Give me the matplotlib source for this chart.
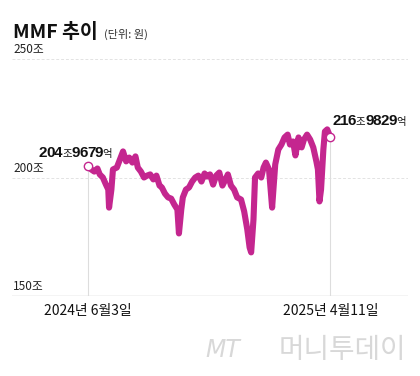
import matplotlib.pyplot as plt
import matplotlib.transforms as mtransforms

plt.rcParams['font.family'] = ['Noto Sans CJK KR', 'DejaVu Sans']

# MMF balance, trillion won; x = days since 2024-06-03
days = [0, 4, 8, 12, 15, 19, 23, 26, 27, 30, 32, 37, 41, 45, 49, 53, 57, 61,
        64, 68, 72, 76, 80, 84, 88, 92, 95, 99, 103, 107, 111, 115, 117, 120,
        122, 126, 130, 134, 138, 142, 146, 150, 153, 157, 161, 165, 169, 173,
        177, 180, 184, 188, 192, 197, 201, 205, 208, 210, 213, 215, 219, 223,
        226, 229, 233, 237, 241, 245, 249, 253, 257, 260, 264, 267, 271, 275,
        278, 282, 286, 290, 294, 296, 298, 300, 303, 305, 308, 312]
values = [204.97, 203.4, 202.5, 203.8, 201.3, 200.0, 197.0, 194.9, 187.3,
          194.9, 203.4, 204.2, 207.6, 211.0, 206.8, 208.4, 206.3, 208.9,
          204.2, 202.5, 200.0, 200.8, 201.3, 199.2, 200.8, 196.6, 195.8,
          193.2, 191.6, 191.1, 188.6, 186.5, 176.4, 186.5, 191.6, 194.9,
          195.8, 198.3, 200.0, 200.8, 198.3, 201.7, 200.4, 201.3, 197.0,
          200.8, 202.1, 196.6, 199.2, 201.3, 196.6, 194.9, 191.6, 190.7,
          185.7, 178.1, 170.5, 168.4, 182.3, 200.0, 201.7, 200.0, 204.2,
          206.3, 203.4, 187.3, 205.5, 211.8, 213.9, 216.9, 218.1, 213.9,
          215.2, 209.3, 216.9, 212.7, 216.0, 218.1, 216.0, 212.7, 206.8,
          203.4, 189.9, 194.9, 211.8, 219.4, 220.3, 216.98]

y_ticks = [150, 200, 250]
y_tick_labels = ['150조', '200조', '250조']
x_ticks = [0, 312]
x_tick_labels = ['2024년 6월3일', '2025년 4월11일']
start_label = '204조9679억'
end_label = '216조9829억'

LINE_COLOR = '#c4268f'

fig = plt.figure(figsize=(4.2, 3.76), dpi=100)
ax = fig.add_axes([12 / 420, 1 - 296 / 376, 396 / 420, 237 / 376])
ax.set_xlim(-98, 412)
ax.set_ylim(150, 250)
ax.axis('off')

# bottom axis line and dashed gridlines
ax.axhline(150, color='#aaaaaa', lw=0.9)
for v in y_ticks[1:]:
    ax.axhline(v, color='#e3e3e3', lw=0.7, ls=(0, (3, 2)))

# y labels sit just above their lines
trans = mtransforms.blended_transform_factory(ax.transAxes, ax.transData)
for v, lab in zip(y_ticks, y_tick_labels):
    ax.annotate(lab, xy=(0.003, v), xycoords=trans, xytext=(0, 2),
                textcoords='offset points', ha='left', va='bottom',
                fontsize=8.5, color='#222222')

# vertical guide lines to first/last point
ax.vlines([days[0], days[-1]], 150, [values[0], values[-1]],
          color='#dddddd', lw=0.8)

ax.plot(days, values, color=LINE_COLOR, lw=4.4, solid_joinstyle='round',
        solid_capstyle='round', zorder=3)
ax.plot([days[0], days[-1]], [values[0], values[-1]], 'o', ms=6,
        mfc='white', mec=LINE_COLOR, mew=1.0, zorder=4)

# x tick labels
for d, lab in zip(x_ticks, x_tick_labels):
    ax.annotate(lab, xy=(d, 150), xytext=(0, -6), textcoords='offset points',
                ha='center', va='top', fontsize=10, color='#111111')


def value_label(label, x, y, dx, dy):
    # condensed bold digits + small regular 조/억, placed with fixed advances
    pos = dx
    for ch in label:
        if ch.isdigit():
            size = 11
            ax.annotate(ch, xy=(x, y), xytext=(pos, dy),
                        textcoords='offset points', ha='left', va='baseline',
                        fontsize=size, fontweight='bold',
                        family='Liberation Sans', color='#111111')
            pos += 0.556 * size * 0.9
        else:
            size = 7.5
            ax.annotate(ch, xy=(x, y), xytext=(pos + 0.3, dy),
                        textcoords='offset points', ha='left', va='baseline',
                        fontsize=size, color='#111111')
            pos += size * 0.95


value_label(start_label, days[0], values[0], -35.5, 6)
value_label(end_label, days[-1], values[-1], 1.5, 9)

# title
fig.text(13 / 420, 1 - 33 / 376, 'MMF 추이', fontsize=14, fontweight='bold',
         ha='left', va='center', color='#111111')
fig.text(104 / 420, 1 - 34 / 376, '(단위: 원)', fontsize=8,
         ha='left', va='center', color='#333333')

# watermark
fig.text(240 / 420, 1 - 350 / 376, 'MT', fontsize=17, style='italic',
         ha='right', va='center', color='#d8d8d8', family='DejaVu Sans')
fig.text(406 / 420, 1 - 350 / 376, '머니투데이', fontsize=20, fontweight='light',
         ha='right', va='center', color='#d8d8d8')

fig.savefig('out.png', dpi=100)
